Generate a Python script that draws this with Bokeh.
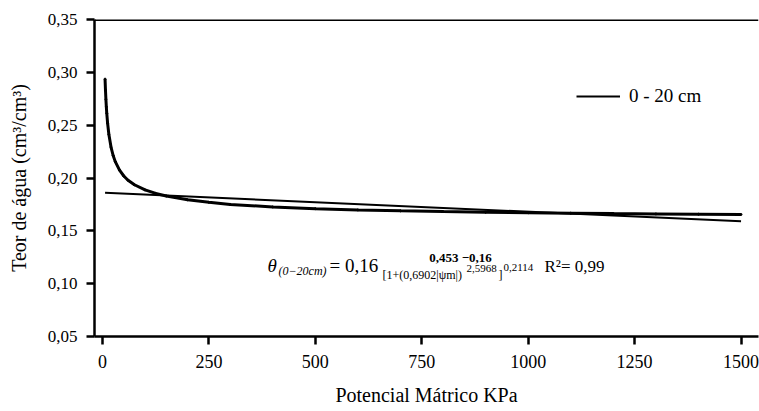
from bokeh.plotting import figure
from bokeh.models import (Range1d, FixedTicker, CustomJSTickFormatter, Span, Label,
                          Legend, LegendItem)
from bokeh.embed import file_html
from bokeh.resources import INLINE

# ---- data ----
psi = [6, 7, 8, 9, 10, 12, 15, 20, 25, 30, 40, 50, 60, 75, 100, 125, 150, 200, 250,
       300, 400, 500, 600, 700, 800, 900, 1000, 1100, 1200, 1300, 1400, 1500]
theta = [0.2936, 0.2830, 0.2744, 0.2673, 0.2613, 0.2517, 0.2412, 0.2293, 0.2213,
         0.2155, 0.2074, 0.2019, 0.1979, 0.1936, 0.1887, 0.1854, 0.1829, 0.1794,
         0.1770, 0.1750, 0.1726, 0.1710, 0.1698, 0.1689, 0.1682, 0.1676, 0.1671,
         0.1667, 0.1663, 0.1660, 0.1657, 0.1655]
trend_x = [6, 1500]
trend_y = [0.186, 0.159]
x_ticks = [0, 250, 500, 750, 1000, 1250, 1500]
y_ticks = [0.05, 0.10, 0.15, 0.20, 0.25, 0.30, 0.35]
series_label = "0 - 20 cm"
x_title = "Potencial Mátrico KPa"
y_title = "Teor de água (cm³/cm³)"

# ---- layout ----
W, H = 759, 411
L, R, T, B = 94, 1, 19, 75
X0, X1 = -18.8, 1541.0
Y0, Y1 = 0.05, 0.35
FONT = "Liberation Serif"


def dx(px):
    return X0 + (px - L) * (X1 - X0) / (W - L - R)


def dy(py):
    return Y1 - (py - T) * (Y1 - Y0) / (H - T - B)


p = figure(width=W, height=H, output_backend="svg", toolbar_location=None,
           x_range=Range1d(X0, X1), y_range=Range1d(Y0, Y1),
           min_border_left=L, min_border_right=R, min_border_top=T,
           min_border_bottom=B)
p.outline_line_color = None
p.grid.visible = False
p.background_fill_color = "white"
p.border_fill_color = "white"

for ax in (p.xaxis[0], p.yaxis[0]):
    ax.axis_line_width = 2.5
    ax.axis_line_color = "black"
    ax.major_tick_line_width = 2.5
    ax.major_tick_line_color = "black"
    ax.major_tick_in = 0
    ax.major_tick_out = 8
    ax.minor_tick_line_color = None
    ax.major_label_text_font = FONT
    ax.major_label_text_color = "black"
    ax.axis_label_text_font = FONT
    ax.axis_label_text_font_size = "20px"
    ax.axis_label_text_font_style = "normal"
    ax.axis_label_text_color = "black"

p.xaxis.major_label_text_font_size = "18px"
p.yaxis.major_label_text_font_size = "17px"
p.xaxis.ticker = FixedTicker(ticks=x_ticks)
p.yaxis.ticker = FixedTicker(ticks=y_ticks)
p.yaxis.formatter = CustomJSTickFormatter(code="return tick.toFixed(2).replace('.', ',');")
p.xaxis.axis_label = x_title
p.yaxis.axis_label = y_title
p.xaxis.major_label_standoff = 10
p.yaxis.major_label_standoff = 9
p.xaxis.axis_label_standoff = 13
p.yaxis.axis_label_standoff = 15

# top border line
p.add_layout(Span(location=Y1, dimension="width", line_color="black", line_width=3))

# series
r_trend = p.line(trend_x, trend_y, line_color="black", line_width=2)
r_line = p.line(psi, theta, line_color="black", line_width=3)
r_pts = p.scatter(psi, theta, size=2, marker="circle", fill_color="black", line_color="black")

legend = Legend(items=[LegendItem(label=series_label, renderers=[r_trend])],
                location=(482, 229), padding=0, margin=0, glyph_width=44,
                glyph_height=20, label_standoff=9, label_text_font=FONT,
                label_text_font_size="19px", label_text_color="black",
                border_line_color=None, background_fill_alpha=0)
p.add_layout(legend)

# equation (text, x px, y px, size, style, align)
eq_parts = [
    ("θ", 267, 265, "19px", "italic", "left"),
    ("(0−20cm)", 278, 270, "12px", "italic", "left"),
    ("= 0,16", 329, 265, "19px", "normal", "left"),
    ("0,453 −0,16", 460, 257, "13px", "bold", "center"),
    ("[1+(0,6902|ψm|)", 382, 274, "12px", "normal", "left"),
    ("2,5968", 466, 268, "11px", "normal", "left"),
    ("]", 498, 274, "12px", "normal", "left"),
    ("0,2114", 503, 267, "11px", "normal", "left"),
    ("R²= 0,99", 544, 266, "17px", "normal", "left"),
]
for txt, px, py, size, style, align in eq_parts:
    p.add_layout(Label(x=dx(px), y=dy(py), text=txt, text_font=FONT,
                       text_font_size=size, text_font_style=style,
                       text_color="black", text_align=align,
                       text_baseline="middle"))

open("out.html", "w").write(file_html(p, INLINE))
